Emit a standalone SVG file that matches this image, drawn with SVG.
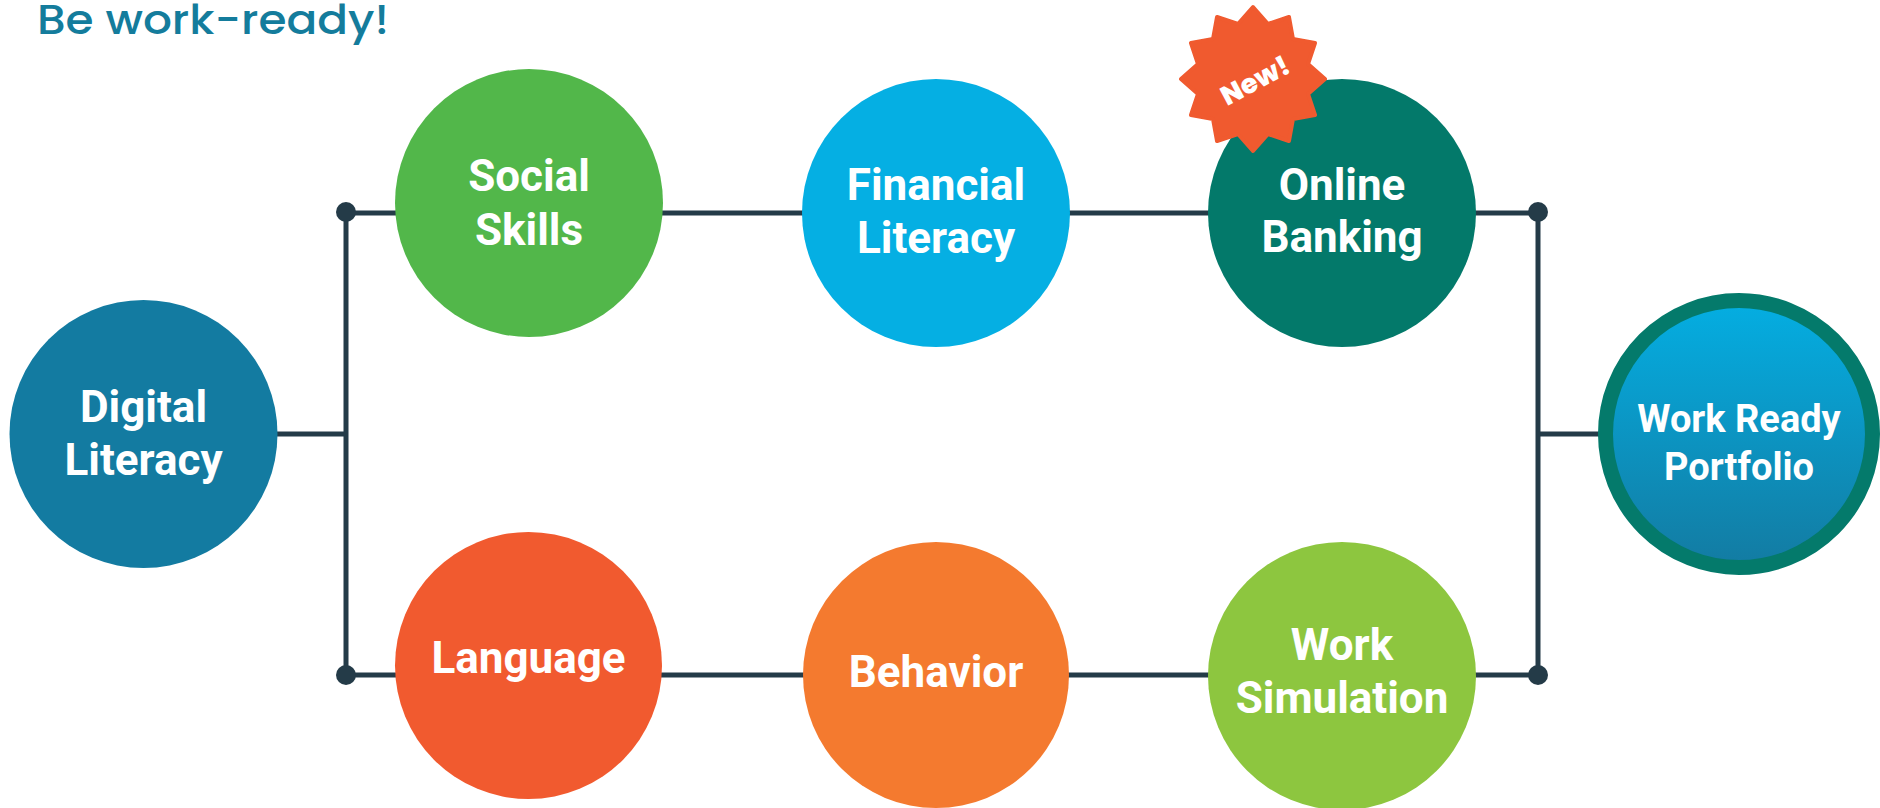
<svg xmlns="http://www.w3.org/2000/svg" width="1880" height="808" viewBox="0 0 1880 808">
<style>
.lbl{font-family:Roboto,"Liberation Sans",sans-serif;font-weight:700;fill:#ffffff;text-anchor:middle;font-size:44px}
.wrp{font-size:38px}
.conn{stroke:#243B48;stroke-width:5;fill:none}
.dot{fill:#243B48}
.title{font-family:Poppins,Inter,"Open Sans",sans-serif;font-weight:500;font-size:41px;fill:#147C9C}
</style>
<defs>
<linearGradient id="gWR" x1="0" y1="0" x2="0" y2="1">
<stop offset="0" stop-color="#04AEE2"/>
<stop offset="1" stop-color="#137BA2"/>
</linearGradient>
</defs>
<text class="title" x="37" y="34" textLength="352" lengthAdjust="spacingAndGlyphs">Be work-ready!</text>
<g id="connectors">
<line class="conn" x1="277" y1="434" x2="346" y2="434"/>
<line class="conn" x1="346" y1="212" x2="346" y2="675"/>
<line class="conn" x1="346" y1="213" x2="1538" y2="213"/>
<line class="conn" x1="346" y1="675" x2="1538" y2="675"/>
<line class="conn" x1="1538" y1="212" x2="1538" y2="675"/>
<line class="conn" x1="1538" y1="434" x2="1600" y2="434"/>
<circle class="dot" cx="346" cy="212" r="10"/>
<circle class="dot" cx="346" cy="675" r="10"/>
<circle class="dot" cx="1538" cy="212" r="10"/>
<circle class="dot" cx="1538" cy="675" r="10"/>
</g>
<g id="digital-literacy">
<circle cx="143.5" cy="434" r="134" fill="#137BA1"/>
<text class="lbl" x="143.5" y="422">Digital</text>
<text class="lbl" x="143.5" y="475">Literacy</text>
</g>
<g id="social-skills">
<circle cx="529" cy="203" r="134" fill="#52B74A"/>
<text class="lbl" x="529" y="191">Social</text>
<text class="lbl" x="529" y="245">Skills</text>
</g>
<g id="financial-literacy">
<circle cx="936" cy="213" r="134" fill="#05AFE3"/>
<text class="lbl" x="936" y="200">Financial</text>
<text class="lbl" x="936" y="253">Literacy</text>
</g>
<g id="online-banking">
<circle cx="1342" cy="213" r="134" fill="#03796A"/>
<text class="lbl" x="1342" y="200">Online</text>
<text class="lbl" x="1342" y="252">Banking</text>
</g>
<g id="new-badge">
<polygon fill="#F05A2F" stroke="#F05A2F" stroke-width="4" stroke-linejoin="round" points="1253,7 1268,24 1289,17 1293,39 1315,43 1308,64 1325,79 1308,94 1315,115 1293,119 1289,141 1268,134 1253,151 1238,134 1217,141 1213,119 1191,115 1198,94 1181,79 1198,64 1191,43 1213,39 1217,17 1238,24"/>
<text x="1255" y="90" transform="rotate(-28 1255 80)" text-anchor="middle" font-family="Poppins,Inter,'Open Sans',sans-serif" font-weight="800" font-size="27" fill="#ffffff" textLength="74" lengthAdjust="spacingAndGlyphs">New!</text>
</g>
<g id="language">
<circle cx="528.5" cy="665.5" r="133.5" fill="#F15A2F"/>
<text class="lbl" x="528.5" y="673">Language</text>
</g>
<g id="behavior">
<circle cx="936" cy="675" r="133" fill="#F47A2F"/>
<text class="lbl" x="936" y="687">Behavior</text>
</g>
<g id="work-simulation">
<circle cx="1342" cy="676" r="134" fill="#8DC63F"/>
<text class="lbl" x="1342" y="660">Work</text>
<text class="lbl" x="1342" y="713">Simulation</text>
</g>
<g id="work-ready-portfolio">
<circle cx="1739" cy="434" r="133.5" fill="url(#gWR)" stroke="#047A6B" stroke-width="15"/>
<text class="lbl wrp" x="1739" y="432">Work Ready</text>
<text class="lbl wrp" x="1739" y="480">Portfolio</text>
</g>
</svg>
